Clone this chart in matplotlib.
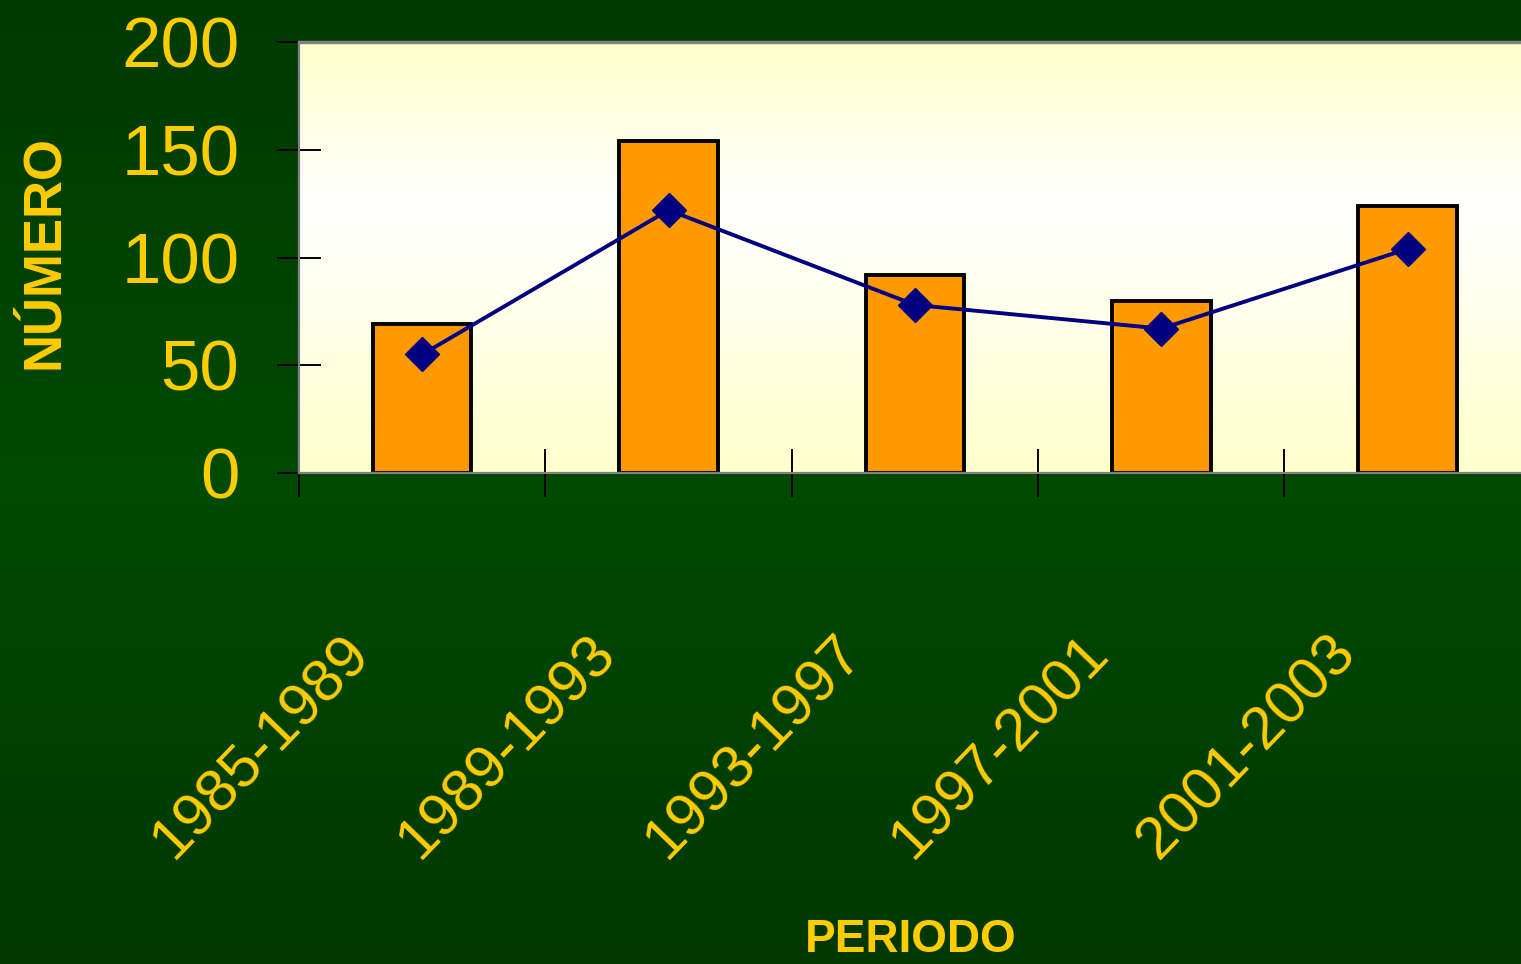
import numpy as np
import matplotlib.pyplot as plt
import matplotlib.transforms as mtransforms
from matplotlib.colors import LinearSegmentedColormap

periodos = ['1985-1989', '1989-1993', '1993-1997', '1997-2001', '2001-2003']
barras = [69, 154, 92, 80, 124]
linea = [55, 122, 78, 67, 104]
yticks = [0, 50, 100, 150, 200]

amarillo = '#FFCC00'
plt.rcParams['font.family'] = ['Liberation Sans', 'DejaVu Sans']

fig = plt.figure(figsize=(15.21, 9.64), dpi=100)

# green background gradient
bg = fig.add_axes([0, 0, 1, 1], zorder=-10)
bg_cmap = LinearSegmentedColormap.from_list('bg', ['#003800', '#004a00', '#003a00'])
bg.imshow(np.linspace(0, 1, 256).reshape(-1, 1), aspect='auto', cmap=bg_cmap,
          extent=[0, 1, 0, 1], origin='lower')
bg.axis('off')

ax = fig.add_axes([299 / 1521, 1 - 473 / 964, 1222 / 1521, 431 / 964])
x = np.arange(len(periodos))

# pale yellow plot area gradient
pa_cmap = LinearSegmentedColormap.from_list(
    'pa', [(0, '#FFFFCC'), (0.62, '#FFFFFF'), (1, '#FFFFCC')])
ax.imshow(np.linspace(0, 1, 256).reshape(-1, 1), aspect='auto', cmap=pa_cmap,
          extent=[-0.49, 4.46, 0, 200], origin='lower', zorder=0)

ax.bar(x, barras, width=0.4, color='#FF9900', edgecolor='black',
       linewidth=2.8, zorder=2)
ax.plot(x, linea, color='#000080', linewidth=2.8, marker='D',
        markersize=17, zorder=3)

ax.set_xlim(-0.49, 4.46)
ax.set_ylim(0, 200)

for s in ['top', 'bottom', 'left']:
    ax.spines[s].set_color('#808080')
    ax.spines[s].set_linewidth(1.6)
ax.spines['top'].set_linewidth(2.5)
ax.spines['right'].set_visible(False)

ax.set_yticks(yticks)
ax.tick_params(axis='y', direction='inout', length=32, width=1.4,
               color='black', pad=27, labelsize=51, labelcolor=amarillo)
ax.set_xticks(np.arange(-0.5, 4.0, 1.0))
ax.set_xticklabels([])
ax.tick_params(axis='x', direction='inout', length=34, width=1.4, color='black')

# rotated category labels
off = mtransforms.ScaledTranslation(-42 / 100, -152 / 100, fig.dpi_scale_trans)
for xi, lab in zip(x, periodos):
    ax.text(xi, 0, lab, transform=ax.get_xaxis_transform() + off,
            rotation=46, ha='right', va='top', fontsize=43, color=amarillo)

fig.text(44 / 1521, 1 - 252 / 964, 'NÚMERO', rotation=90, ha='center',
         va='center', fontsize=38, fontweight='bold', color=amarillo)
fig.text(911 / 1521, 2 / 964, 'PERIODO', ha='center', va='bottom',
         fontsize=33, fontweight='bold', color=amarillo)

fig.savefig('out.png', dpi=100)
